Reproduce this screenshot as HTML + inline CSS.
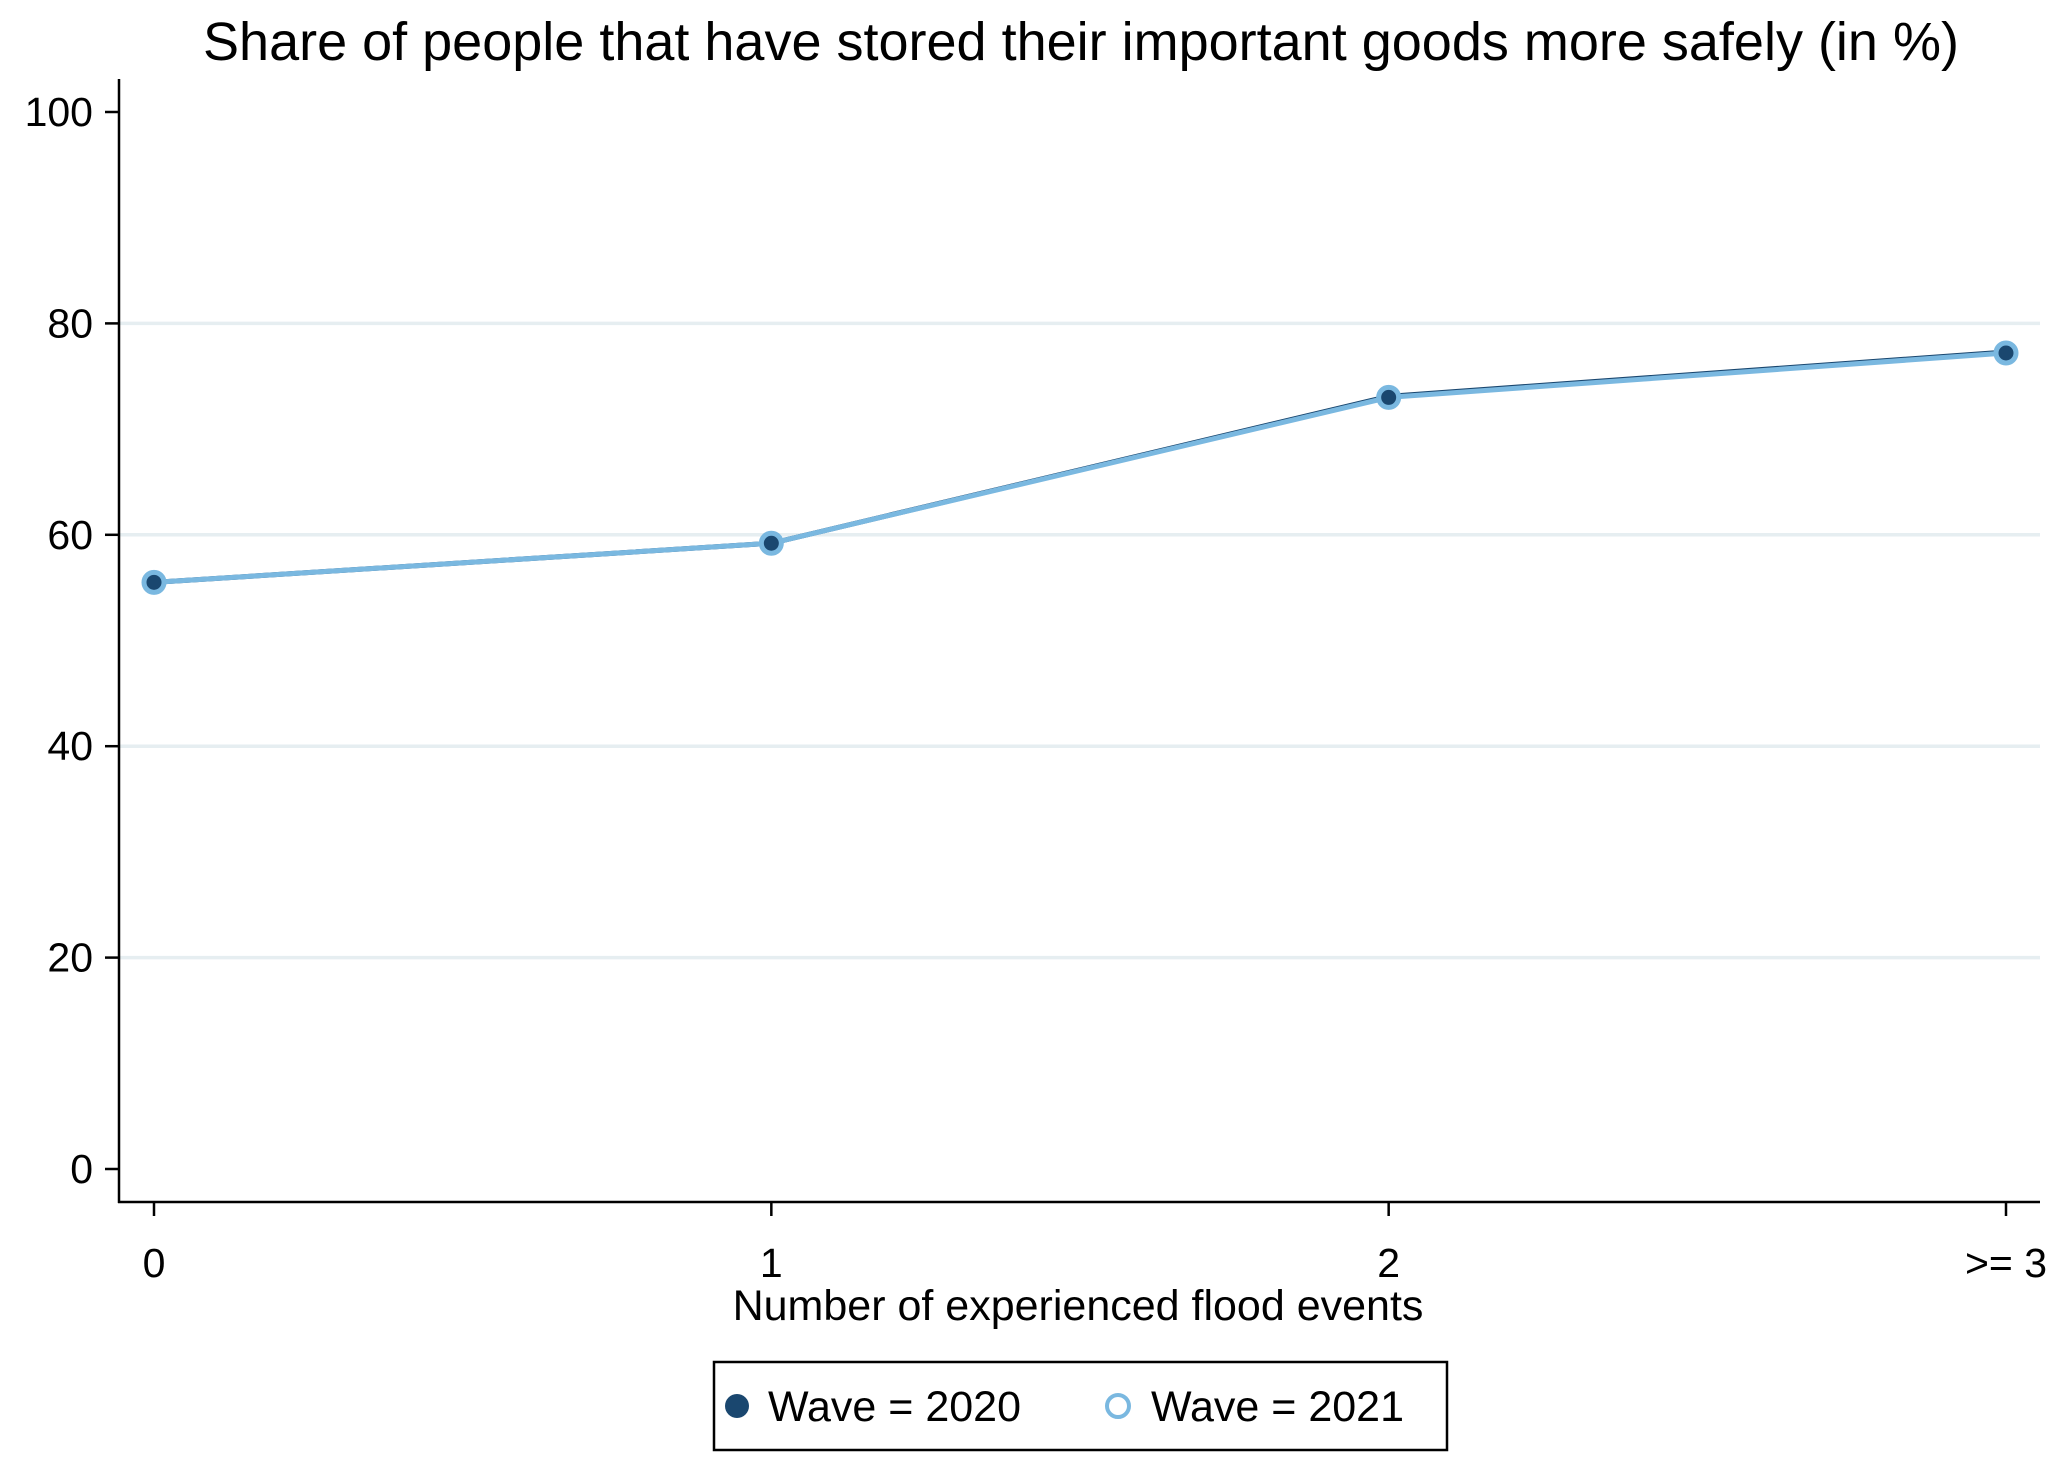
<!DOCTYPE html>
<html><head><meta charset="utf-8"><style>
body{margin:0;background:#fff;}
svg{display:block;font-family:"Liberation Sans",sans-serif;}
</style></head><body>
<svg id="chart" width="2067" height="1469" viewBox="0 0 2067 1469">
<text x="1081" y="60" font-size="54" text-anchor="middle" fill="#000">Share of people that have stored their important goods more safely (in %)</text>
<g id="grid"></g>
<g id="axes"></g>
<g id="series"></g>
<text x="1078" y="1320" font-size="43" text-anchor="middle">Number of experienced flood events</text>
<g>
<rect x="714" y="1362" width="733" height="88" fill="#fff" stroke="#000" stroke-width="2.5"/>
<g>
<circle cx="737" cy="1406" r="12" fill="#1a476f"/>
<text x="768" y="1421" font-size="43">Wave = 2020</text></g>
<g>
<circle cx="1118" cy="1406" r="11" fill="none" stroke="#7ab8e0" stroke-width="4"/>
<text x="1151" y="1421" font-size="43">Wave = 2021</text></g>
</g>
</svg>
<script>
const categories = ["0","1","2",">= 3"];
const wave2020 = [55.5, 59.2, 73.1, 77.3];
const wave2021 = [55.5, 59.2, 73.0, 77.2];
const yTicks = [0,20,40,60,80,100];
const NS="http://www.w3.org/2000/svg";
const X0=154, X1=2006, Y0=1169, Y100=112;
const xs=i=>X0+(X1-X0)*i/(categories.length-1);
const ys=v=>Y0+(Y100-Y0)*v/100;
function mk(tag,attrs,parent){const e=document.createElementNS(NS,tag);for(const k in attrs)e.setAttribute(k,attrs[k]);parent.appendChild(e);return e;}
const grid=document.getElementById('grid'),axes=document.getElementById('axes'),ser=document.getElementById('series');
yTicks.forEach(t=>{
  if(t>0&&t<100){const g=mk('line',{x1:120,x2:2040,y1:ys(t),y2:ys(t),stroke:'#e6eef1','stroke-width':3.5},grid);
  
  }
  const tk=mk('line',{x1:105,x2:119,y1:ys(t),y2:ys(t),stroke:'#000','stroke-width':2.5},axes);
  
  
  const tl=mk('text',{x:93,y:ys(t)+14,'font-size':41,'text-anchor':'end'},axes);tl.textContent=t;
  
  
});
const ya=mk('line',{x1:119,x2:119,y1:79,y2:1203,stroke:'#000','stroke-width':2.5},axes);


const xa=mk('line',{x1:118,x2:2040,y1:1202,y2:1202,stroke:'#000','stroke-width':2.5},axes);


categories.forEach((c,i)=>{
  const tk=mk('line',{x1:xs(i),x2:xs(i),y1:1202,y2:1216,stroke:'#000','stroke-width':2.5},axes);
  
  
  const anchor = i===categories.length-1 ? 'middle' : 'middle';
  const tl=mk('text',{x:xs(i),y:1277,'font-size':41,'text-anchor':anchor},axes);tl.textContent=c;
  
  
});
function series(vals,color,name){
  const p=mk('polyline',{points:vals.map((v,i)=>xs(i)+','+ys(v)).join(' '),fill:'none',stroke:color,'stroke-width':5},ser);
  
  
}
series(wave2020,'#1a476f','wave-2020');
series(wave2021,'#7ab8e0','wave-2021');
wave2020.forEach((v,i)=>{const c=mk('circle',{cx:xs(i),cy:ys(v),r:11,fill:'#1a476f'},ser);
  
  });
wave2021.forEach((v,i)=>{const c=mk('circle',{cx:xs(i),cy:ys(v),r:10,fill:'none',stroke:'#7ab8e0','stroke-width':5},ser);
  
  });
</script>
</body></html>
